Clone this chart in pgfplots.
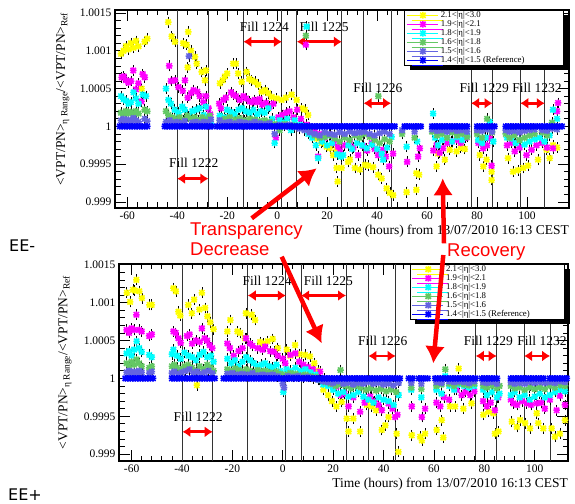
\documentclass[border=0pt]{standalone}
\usepackage{fontspec}
\setmainfont{Liberation Serif}
\newfontfamily\annfont{Liberation Sans}
\newfontfamily\eefont{DejaVu Sans}
\usepackage{pgfplots}
\pgfplotsset{compat=1.18}
\usetikzlibrary{shadows,arrows.meta}

\definecolor{cY}{RGB}{255,255,0}
\definecolor{cM}{RGB}{255,0,255}
\definecolor{cC}{RGB}{0,255,255}
\definecolor{cG}{RGB}{100,200,100}
\definecolor{cS}{RGB}{100,100,225}
\definecolor{cB}{RGB}{0,0,255}

\pgfdeclareplotmark{rootstar}{%
  \pgfpathmoveto{\pgfqpoint{-\pgfplotmarksize}{0pt}}\pgfpathlineto{\pgfqpoint{\pgfplotmarksize}{0pt}}%
  \pgfpathmoveto{\pgfqpoint{0pt}{-\pgfplotmarksize}}\pgfpathlineto{\pgfqpoint{0pt}{\pgfplotmarksize}}%
  \pgfpathmoveto{\pgfqpoint{-.8\pgfplotmarksize}{-.8\pgfplotmarksize}}\pgfpathlineto{\pgfqpoint{.8\pgfplotmarksize}{.8\pgfplotmarksize}}%
  \pgfpathmoveto{\pgfqpoint{-.8\pgfplotmarksize}{.8\pgfplotmarksize}}\pgfpathlineto{\pgfqpoint{.8\pgfplotmarksize}{-.8\pgfplotmarksize}}%
  \pgfusepathqstroke}

\tikzset{
  fillline/.style={black!80, line width=0.9pt},
  fillarrow/.style={red, line width=2.8pt, {Latex[length=8pt,width=11pt]}-{Latex[length=8pt,width=11pt]}},
  filltext/.style={font=\fontsize{13.5}{14}\selectfont, inner sep=0pt},
}

\pgfplotsset{
  panel/.style={
    scale only axis,
    xtick={-60,-40,-20,0,20,40,60,80,100},
    xticklabels={-60,-40,-20,0,20,40,60,80,100},
    minor x tick num=4,
    ytick={0.999,0.9995,1,1.0005,1.001,1.0015},
    yticklabels={0.999,0.9995,1,1.0005,1.001,1.0015},
    minor y tick num=4,
    tick align=inside,
    major tick length=11pt, minor tick length=5.5pt,
    axis line style={line width=1.2pt},
    every tick/.style={black, line width=0.8pt},
    ticklabel style={font=\fontsize{11.5}{12}\selectfont},
    label style={font=\fontsize{13.5}{15}\selectfont},
    xlabel={Time (hours) from 13/07/2010 16:13 CEST},
    xlabel style={at={(axis description cs:1,0)}, anchor=north east, inner sep=0pt, yshift=-17pt},
    ylabel={<VPT/PN>\textsubscript{η Range}/<VPT/PN>\textsubscript{Ref}},
    legend cell align=left,
    legend style={anchor=north east, draw=black, line width=0.6pt, fill=white,
      font=\fontsize{8.8}{9}\selectfont, inner xsep=2pt, inner ysep=0.5pt, row sep=0pt,
      nodes={inner xsep=2.5pt, inner ysep=1pt, text height=5.8pt, text depth=1.2pt},
      drop shadow={shadow xshift=5pt, shadow yshift=-5pt, fill=black, opacity=1}},
    legend image code/.code={\path (-16pt,0pt) -- (15pt,0pt);
      \draw[mark repeat=2,mark phase=2,##1] plot coordinates {(-3pt,0pt) (0pt,0pt) (3pt,0pt)};},
  },
  ser/.style={only marks, mark=rootstar, mark size=3.3pt, color=#1,
    mark options={line width=1.5pt, draw=#1},
    /pgfplots/error bars/y dir=both, /pgfplots/error bars/y fixed=0.00004,
    /pgfplots/error bars/error bar style={black, line width=0.35pt},
    /pgfplots/error bars/error mark options={black, line width=0.7pt, mark size=2.4pt}},
  refser/.style={only marks, mark=rootstar, mark size=3.3pt, color=cB,
    mark options={line width=1.5pt, draw=cB}},
}

\begin{document}
\begin{tikzpicture}[x=1pt,y=1pt]
\path[use as bounding box] (0,0) rectangle (575,503);

% ---------------- EE- ----------------
\begin{axis}[panel, at={(115pt,295pt)}, anchor=south west, width=454pt, height=198pt,
  xmin=-64.9, xmax=116.8, ymin=0.99892, ymax=1.00154,
  legend style={at={(0.988,1)}},
  ylabel style={at={(axis description cs:-0.115,0.55)}, anchor=center}]
\pgfplotsinvokeforeach{-40,-27.5,-13.5,1.9,7.9,25.9,34.6,45.6,77.6,86.2,97.3,107.1}{
  \draw[fillline] ({axis cs:#1,1}|-{rel axis cs:0,0}) -- ({axis cs:#1,1}|-{rel axis cs:0,1});}

\addplot[ser=cY] coordinates {
(-62.5,1.00096)(-61.5,1.00100)(-60.5,1.00106)(-59.5,1.00102)(-58.5,1.00110)(-57.5,1.00104)(-56.5,1.00113)(-55.5,1.00106)(-54.2,1.00050)(-53,1.00112)(-52,1.00116)
(-43.6,1.00138)(-42.2,1.00119)(-40.9,1.00112)(-37.6,1.00110)(-36.2,1.00108)(-35.6,1.00125)(-35.8,1.00078)(-34.5,1.00100)(-32.9,1.00092)(-32.2,1.00083)(-30.2,1.00072)(-28.5,1.00074)(-28.9,1.00061)
(-22.9,1.00057)(-21.8,1.00061)(-20.9,1.00066)(-20,1.00070)(-17.6,1.00083)(-16.5,1.00083)(-15.6,1.00070)(-14.2,1.00059)(-12.2,1.00072)(-11.2,1.00063)(-10.2,1.00061)(-8.9,1.00059)(-7.6,1.00055)(-6.2,1.00046)(-4.9,1.00048)(-3.6,1.00044)(-2.2,1.00039)(-0.2,1.00037)(1.8,1.00035)(3.5,1.00038)(5.8,1.00042)(7.8,1.00035)(9.8,1.00024)(11.1,1.00022)(12.4,1.00015)
(14.4,0.99989)(15.8,0.99984)(17.8,0.99978)(19.8,0.99973)(21.1,0.99971)(22.4,0.99962)(23.8,0.99945)(24.2,0.99927)(23.8,0.99969)(25.8,0.99945)(28.4,0.99953)(29.1,0.99956)(31.1,0.99945)(33.1,0.99943)(35.1,0.99949)(36.4,0.99948)(38.4,0.99946)(40.4,0.99936)(41.8,0.99931)(43.8,0.99918)(45.1,0.99912)(46.4,0.99909)
(51.8,0.99913)(55.7,0.99916)(55.7,0.99938)(56.8,0.99936)(63.8,0.99947)(64.4,0.99964)(67.1,0.99956)(69.1,0.99969)(71.8,0.99967)(73.5,0.99972)(75.1,0.99970)(81.1,0.99962)(82.5,0.99947)(83.8,0.99956)(85.8,0.99940)(85.8,0.99929)(92.4,0.99958)(94.4,0.99940)(96.4,0.99942)(98.5,0.99945)(100.4,0.99948)(104.4,0.99956)(107.8,0.99969)(109.1,0.99958)(110.4,0.99975)(112,0.99972)
};
\addlegendentry{\makebox[118pt][l]{2.1<|η|<3.0}}

\addplot[ser=cM] coordinates {
(-62.2,1.00065)(-61.4,1.00066)(-60.5,1.00061)(-59.5,1.00058)(-58.5,1.00060)(-57.6,1.00074)(-56.5,1.00049)(-55.5,1.00057)(-54.3,1.00033)(-53.8,1.00069)(-53,1.00065)
(-43.2,1.00080)(-42.5,1.00060)(-40.9,1.00061)(-39.5,1.00052)(-37.8,1.00047)(-36.9,1.00061)(-35.8,1.00038)(-34.5,1.00044)(-33.5,1.00048)(-32,1.00046)(-31,1.00040)(-29.5,1.00032)(-28.5,1.00040)(-27.5,1.00024)(-26.8,1.00016)
(-23.2,1.00030)(-22.5,1.00024)(-21.5,1.00035)(-20.5,1.00038)(-18.5,1.00045)(-17.5,1.00042)(-16.5,1.00040)(-15,1.00035)(-13.5,1.00040)(-12.5,1.00037)(-11,1.00033)(-10,1.00032)(-9,1.00035)(-8,1.00032)(-7,1.00036)(-6,1.00029)(-4.5,1.00031)(-3,1.00026)(-1.5,1.00030)(-0.5,0.99985)(0.5,1.00012)(2,1.00015)(3.5,1.00018)(5,1.00020)(6.5,1.00012)(8,1.00022)(9.5,1.00010)(11.5,1.00108)(11.8,1.00002)
(13,0.99998)(15.1,0.99993)(16.4,0.99960)(17,0.99990)(19,0.99985)(21.1,0.99989)(22.4,0.99978)(23.1,0.99982)(24.4,0.99973)(25.1,0.99967)(27,0.99975)(29.1,0.99980)(30.5,0.99972)(32.4,0.99962)(34.4,0.99974)(36,0.99968)(37.8,0.99978)(39,0.99970)(40.4,0.99962)(42.4,0.99969)(43.5,0.99960)(44.8,0.99947)(46.4,0.99964)
(52,0.99953)(56.4,0.99960)(57.1,0.99971)(62.5,0.99968)(63.8,0.99975)(65,0.99965)(66.4,0.99971)(68,0.99978)(69.8,0.99980)(71.8,0.99982)(73.5,0.99978)(75.5,0.99985)(80.5,0.99978)(82.4,0.99971)(84,0.99975)(85.1,0.99984)(85.8,0.99948)(92,0.99975)(93.8,0.99978)(95.1,0.99967)(97,0.99972)(99.8,0.99962)(101.8,0.99969)(103.8,0.99975)(106,0.99978)(108,0.99972)(110.4,0.99971)(112.4,1.00031)(112,1.00020)
};
\addlegendentry{\makebox[118pt][l]{1.9<|η|<2.1}}

\addplot[ser=cC] coordinates {
(-62.5,1.00040)(-61.5,1.00036)(-60.5,1.00034)(-59.5,1.00030)(-58.5,1.00032)(-57.5,1.00045)(-56.5,1.00037)(-55.5,1.00030)(-53.8,1.00042)(-52.5,1.00040)
(-44.5,1.00050)(-43.5,1.00035)(-42.5,1.00030)(-41,1.00022)(-39.5,1.00018)(-38,1.00026)(-37,1.00022)(-35.5,1.00013)(-34,1.00020)(-32.5,1.00022)(-31,1.00024)(-29.5,1.00015)(-28.5,1.00026)(-27.5,1.00012)(-26.5,1.00004)
(-23,1.00014)(-22,1.00010)(-21,1.00012)(-20,1.00022)(-18.5,1.00019)(-17,1.00016)(-15.5,1.00022)(-14,1.00024)(-12.5,1.00020)(-11,1.00018)(-9.5,1.00022)(-8,1.00016)(-6.5,1.00020)(-5,1.00018)(-3.5,1.00024)(-2,1.00010)(-1,0.99978)(1,1.00008)(2.5,1.00005)(4,1.00010)(5.5,0.99995)(7,1.00008)(9,1.00002)(10.5,1.00000)(11.8,1.00132)
(12.5,0.99990)(14,0.99985)(15.5,0.99975)(16.4,0.99958)(18,0.99980)(20,0.99975)(21,0.99988)(22,0.99978)(24,0.99963)(25.5,0.99960)(26.4,0.99962)(28.5,0.99975)(30,0.99970)(32,0.99978)(34,0.99975)(35.8,0.99971)(38,0.99976)(40,0.99970)(41.8,0.99964)(42.4,0.99956)(44,0.99972)(45.8,0.99986)
(51.8,0.99973)(56,0.99980)(62.4,1.00017)(63.2,0.99985)(64.4,0.99975)(66,0.99982)(68,0.99985)(70,0.99980)(72,0.99986)(74,0.99982)(76,0.99988)(80.4,0.99982)(82,0.99978)(83.5,0.99985)(85.1,1.00006)(86.5,0.99980)(92,0.99985)(93.8,0.99984)(95.5,0.99978)(97.1,0.99982)(99,0.99976)(101,0.99980)(103,0.99983)(105,0.99985)(107,0.99980)(109,0.99988)(110.4,1.00022)(112,1.00010)
};
\addlegendentry{\makebox[118pt][l]{1.8<|η|<1.9}}

\addplot[ser=cG] coordinates {
(-62.5,1.00018)(-61.5,1.00016)(-60.5,1.00020)(-59.5,1.00017)(-58.5,1.00019)(-57.5,1.00015)(-56.5,1.00020)(-55.5,1.00017)(-53,1.00022)(-52,1.00020)
(-44.5,1.00020)(-43.5,1.00015)(-42,1.00012)(-40.5,1.00010)(-39,1.00012)(-37.5,1.00008)(-36,1.00014)(-34.5,1.00010)(-33,1.00012)(-31.5,1.00008)(-30,1.00012)(-28.5,1.00009)(-27,1.00014)
(-23,1.00008)(-21,1.00010)(-19,1.00012)(-17,1.00009)(-15,1.00011)(-13,1.00008)(-11,1.00010)(-9,1.00009)(-7,1.00007)(-5,1.00008)(-3,1.00006)(-1,1.00003)(1,0.99995)(3,1.00003)(5,1.00002)(7,1.00001)(9,0.99998)(11.5,1.00120)
(13,0.99994)(15,0.99988)(17,0.99985)(19,0.99986)(21,0.99988)(23,0.99984)(25,0.99980)(27,0.99985)(29,0.99982)(31,0.99988)(33,0.99985)(35,0.99990)(37,0.99986)(39,0.99982)(40.5,1.00040)(41,0.99978)(43,0.99983)(45,0.99980)
(50,0.99990)(55,0.99985)(62,0.99993)(64,0.99988)(66,0.99990)(68,0.99985)(70,0.99992)(72,0.99988)(74,0.99990)(76,0.99986)(80,0.99990)(82,0.99985)(84,1.00010)(86,0.99992)(91.5,0.99990)(93,0.99985)(95,0.99988)(97,0.99982)(99,0.99985)(101,0.99988)(103,0.99990)(106,0.99992)(108,0.99988)(110,1.00005)(112,1.00000)
};
\addlegendentry{\makebox[118pt][l]{1.6<|η|<1.8}}

\addplot[ser=cS] coordinates {
(-62.5,1.00008)(-61.5,1.00010)(-60.5,1.00006)(-59.5,1.00009)(-58.5,1.00007)(-57.5,1.00011)(-56.5,1.00008)(-55.5,1.00006)(-53,1.00010)(-52,1.00007)
(-44.5,1.00006)(-43,1.00008)(-41.5,1.00005)(-40,1.00006)(-38.5,1.00004)(-37,1.00007)(-35.3,1.00093)(-34,1.00005)(-32.5,1.00006)(-31,1.00004)(-29.5,1.00006)(-28,1.00005)(-26.5,1.00009)
(-23,1.00008)(-21,1.00005)(-19,1.00006)(-17,1.00004)(-15,1.00006)(-13,1.00005)(-11,1.00004)(-9,1.00006)(-7,1.00004)(-5,1.00003)(-3,1.00004)(-1,0.99990)(1,1.00002)(3,1.00001)(5,1.00002)(7,0.99999)(9,0.99997)(11,0.99995)
(13,0.99992)(15,0.99990)(17,0.99988)(19,0.99992)(21,0.99990)(23,0.99989)(25,0.99992)(27,0.99990)(29,0.99993)(31,0.99991)(33,0.99992)(35,0.99993)(37,0.99990)(39,0.99988)(41,0.99991)(43,0.99993)(45,0.99990)
(50,0.99995)(55,0.99993)(62,0.99996)(64,0.99994)(66,0.99995)(68,0.99993)(70,0.99996)(72,0.99994)(74,0.99995)(76,0.99993)(80,0.99995)(82,0.99994)(84,0.99996)(86,0.99993)(91.5,0.99995)(93,0.99993)(95,0.99994)(97,0.99992)(99,0.99994)(101,0.99995)(103,0.99996)(106,0.99995)(108,0.99994)(110,0.99997)(112,0.99996)
};
\addlegendentry{\makebox[118pt][l]{1.5<|η|<1.6}}

\addplot[refser] coordinates {
(-63,1)(-62,1)(-61,1)(-60,1)(-59,1)(-58,1)(-57,1)(-56,1)(-55,1)(-54,1)(-53,1)(-52,1)
(-45,1)(-44,1)(-43,1)(-42,1)(-41,1)(-40,1)(-39,1)(-38,1)(-37,1)(-36,1)(-35,1)(-34,1)(-33,1)(-32,1)(-31,1)(-30,1)(-29,1)(-28,1)(-27,1)(-26,1)
(-24,1)(-23,1)(-22,1)(-21,1)(-20,1)(-19,1)(-18,1)(-17,1)(-16,1)(-15,1)(-14,1)(-13,1)(-12,1)(-11,1)(-10,1)(-9,1)(-8,1)(-7,1)(-6,1)(-5,1)(-4,1)(-3,1)(-2,1)(-1,1)(0,1)(1,1)(2,1)(3,1)(4,1)(5,1)(6,1)(7,1)(8,1)(9,1)(10,1)(11,1)(12,1)(13,1)(14,1)(15,1)(16,1)(17,1)(18,1)(19,1)(20,1)(21,1)(22,1)(23,1)(24,1)(25,1)(26,1)(27,1)(28,1)(29,1)(30,1)(31,1)(32,1)(33,1)(34,1)(35,1)(36,1)(37,1)(38,1)(39,1)(40,1)(41,1)(42,1)(43,1)(44,1)(45,1)(46,1)(47,1)
(51,1)(52,1)(53,1)(54.5,1)(55.5,1)(56.5,1)(57.5,1)
(62,1)(63,1)(64,1)(65,1)(66,1)(67,1)(68,1)(69,1)(70,1)(71,1)(72,1)(73,1)(74,1)(75,1)(76,1)
(80,1)(81,1)(82,1)(83,1)(84,1)(85,1)(86,1)(87,1)
(91.5,1)(92.5,1)(93.5,1)(94.5,1)(95.5,1)(96.5,1)(97.5,1)(98.5,1)(99.5,1)(100.5,1)(101.5,1)(102.5,1)
(104,1)(105,1)(106,1)(107,1)(108,1)(109,1)(110,1)(111,1)(112,1)(113,1)(114,1)
};
\addlegendentry{\makebox[118pt][l]{1.4<|η|<1.5 (Reference)}}

\node[filltext] at (axis cs:-33.4,0.999516) {Fill 1222};
\draw[fillarrow] (axis cs:-40,0.999308) -- (axis cs:-27.5,0.999308);
\node[filltext] at (axis cs:-5.1,1.001315) {Fill 1224};
\draw[fillarrow] (axis cs:-13.5,1.00112) -- (axis cs:1.9,1.00112);
\node[filltext] at (axis cs:18.8,1.001315) {Fill 1225};
\draw[fillarrow] (axis cs:7.9,1.00112) -- (axis cs:25.9,1.00112);
\node[filltext] at (axis cs:40.3,1.000504) {Fill 1226};
\draw[fillarrow] (axis cs:34.6,1.000306) -- (axis cs:45.6,1.000306);
\node[filltext] at (axis cs:82.9,1.000504) {Fill 1229};
\draw[fillarrow] (axis cs:77.6,1.000306) -- (axis cs:86.2,1.000306);
\node[filltext] at (axis cs:104,1.000504) {Fill 1232};
\draw[fillarrow] (axis cs:97.3,1.000306) -- (axis cs:107.1,1.000306);
\end{axis}

% ---------------- EE+ ----------------
\begin{axis}[panel, at={(119pt,42pt)}, anchor=south west, width=449pt, height=197pt,
  xmin=-65, xmax=113.2, ymin=0.99891, ymax=1.00151,
  legend style={at={(0.993,1)}},
  ylabel style={at={(axis description cs:-0.12,0.5)}, anchor=center}]
\pgfplotsinvokeforeach{-39.8,-27.8,-13.9,1.2,7.3,25.1,34,44.8,76.6,84.9,95.8,106.1}{
  \draw[fillline] ({axis cs:#1,1}|-{rel axis cs:0,0}) -- ({axis cs:#1,1}|-{rel axis cs:0,1});}

\addplot[ser=cY] coordinates {
(-61.9,1.00113)(-60.6,1.00101)(-59.5,1.00117)(-58.1,1.00130)(-58.8,1.00116)(-56.9,1.00115)(-55.9,1.00106)(-52.9,1.00097)(-52,1.00097)
(-43.4,1.00119)(-42.4,1.00115)(-41.4,1.00088)(-40.7,1.00083)(-37.5,1.00097)(-36.1,1.00086)(-35.2,1.00104)(-34.1,0.99991)(-33.1,1.00091)(-32.1,1.00113)(-30.8,1.00093)(-29.9,1.00082)(-28.8,1.00074)(-27.5,1.00065)
(-22,1.00062)(-20.8,1.00077)(-18,1.00062)(-16.9,1.00060)(-15,1.00053)(-14.6,1.00086)(-12.3,1.00084)(-11,1.00077)(-9,1.00048)(-7.7,1.00046)(-6,1.00049)(-4,1.00052)(-2,1.00040)(1.6,1.00038)(3,1.00030)(4.9,1.00044)(6.5,1.00032)(8.8,1.00031)(10.8,1.00029)(12.5,1.00020)(14,1.00010)
(16.1,0.99985)(18,0.99978)(19.5,0.99970)(21.3,0.99963)(23.4,0.99969)(25.4,0.99947)(26.1,0.99930)(28,0.99947)(30.7,0.99930)(33.3,0.99965)(35.3,0.99963)(37,0.99958)(39.3,0.99932)(40.7,0.99938)(42,0.99949)(45.2,0.99927)(45.9,0.99903)
(51.2,0.99925)(54.5,0.99923)(55.2,0.99918)(56.5,0.99927)(61.1,0.99932)(63.1,0.99945)(63.7,0.99922)(66.4,0.99963)(68.4,0.99963)(69.8,1.00013)(71.7,0.99960)(74.9,0.99967)(79.6,0.99952)(81.6,0.99956)(83.6,0.99954)(84.2,0.99927)(85.6,0.99930)
(90.9,0.99943)(92.9,0.99936)(94.2,0.99945)(96.2,0.99941)(98.1,0.99934)(100.8,0.99954)(101.4,0.99941)(103.4,0.99934)(106.7,0.99934)(108,0.99923)(110,0.99927)(112,0.99945)
};
\addlegendentry{\makebox[114pt][l]{2.1<|η|<3.0}}

\addplot[ser=cM] coordinates {
(-62,1.00064)(-61,1.00060)(-60,1.00066)(-59,1.00064)(-58.1,1.00084)(-57,1.00064)(-56,1.00062)(-53,1.00056)(-52,1.00058)
(-43.4,1.00062)(-42.5,1.00060)(-41.4,1.00053)(-40.5,1.00047)(-38,1.00056)(-37,1.00058)(-36,1.00046)(-34.5,1.00050)(-33,1.00048)(-32.1,1.00066)(-31,1.00053)(-30,1.00050)(-29,1.00044)(-28,1.00040)
(-22,1.00046)(-21,1.00040)(-19.5,1.00030)(-17.5,1.00036)(-16,1.00040)(-14.6,1.00053)(-13,1.00046)(-12,1.00043)(-10,1.00040)(-8,1.00038)(-7,1.00042)(-5,1.00036)(-3.5,1.00035)(-2,1.00030)(0,1.00026)(1,1.00020)(3,1.00031)(5,1.00033)(6.5,1.00022)(8.2,1.00018)(10,1.00015)(12,1.00012)(14.8,1.00009)
(16.5,1.00000)(18.8,0.99996)(20,0.99990)(21.3,0.99989)(23,0.99978)(24.5,0.99980)(26.1,0.99963)(28,0.99975)(30.7,0.99956)(32.5,0.99968)(34.7,0.99976)(36.5,0.99970)(38,0.99965)(39.3,0.99958)(42,0.99967)(43.5,0.99960)(44.6,0.99949)(45.5,0.99952)
(51.2,0.99963)(55.2,0.99949)(56.5,0.99960)(61,0.99968)(62.5,0.99963)(64,0.99975)(66,0.99972)(69,0.99985)(71,0.99978)(72.5,0.99982)(74.4,0.99978)(76,0.99983)(79.5,0.99970)(81,0.99963)(82.5,0.99968)(84.2,0.99958)(85.5,0.99975)
(90.5,0.99972)(91.5,0.99967)(93,0.99965)(95,0.99970)(96.8,0.99967)(98.5,0.99965)(100.8,0.99967)(102.5,0.99968)(104,0.99960)(106,0.99972)(108.7,0.99958)(110,0.99977)(112,0.99965)
};
\addlegendentry{\makebox[114pt][l]{1.9<|η|<2.1}}

\addplot[ser=cC] coordinates {
(-62,1.00033)(-61,1.00036)(-60,1.00030)(-59,1.00038)(-58,1.00049)(-57,1.00040)(-56,1.00035)(-53,1.00031)(-52,1.00028)
(-44,1.00032)(-43.4,1.00038)(-42,1.00030)(-40.5,1.00026)(-39,1.00034)(-37.5,1.00030)(-36,1.00028)(-34.5,1.00024)(-33,1.00031)(-31.5,1.00035)(-30,1.00028)(-28.5,1.00030)(-27.5,1.00022)
(-22,1.00026)(-20.5,1.00020)(-19,1.00024)(-17.5,1.00016)(-16,1.00022)(-14.5,1.00028)(-13,1.00024)(-11.5,1.00020)(-10,1.00016)(-8.5,1.00018)(-7,1.00020)(-5.5,1.00016)(-4,1.00014)(-2.5,1.00018)(-1,1.00010)(0.2,0.99982)(1.5,1.00012)(3,1.00010)(5,1.00014)(7,1.00010)(9,1.00012)(11,1.00008)(13,1.00005)
(14.5,0.99998)(16,0.99992)(18,0.99990)(20,0.99985)(22,0.99980)(24,0.99982)(26,0.99976)(28,0.99978)(30,0.99982)(32,0.99976)(34,0.99972)(36,0.99968)(38,0.99975)(40,0.99972)(42,0.99970)(44,0.99965)(46,0.99978)
(51,0.99985)(55,0.99975)(61,0.99985)(63,0.99980)(64.5,1.00003)(66,0.99990)(68,0.99985)(70,0.99992)(72,0.99990)(74,0.99988)(76,0.99990)(79.5,0.99985)(81,0.99978)(83,0.99982)(85,0.99975)(86,0.99980)
(90.5,0.99978)(92,0.99982)(94,0.99975)(96,0.99978)(98,0.99972)(100,0.99976)(102,0.99980)(104,0.99975)(106,0.99978)(108,0.99982)(110,0.99985)(112,0.99983)
};
\addlegendentry{\makebox[114pt][l]{1.8<|η|<1.9}}

\addplot[ser=cG] coordinates {
(-62,1.00020)(-61,1.00016)(-60,1.00022)(-59,1.00018)(-58,1.00025)(-57,1.00020)(-56,1.00016)(-53,1.00014)(-52,1.00016)
(-44,1.00016)(-43,1.00018)(-42,1.00014)(-40.5,1.00012)(-39,1.00016)(-37.5,1.00018)(-36,1.00014)(-34.5,1.00010)(-33,1.00016)(-31.5,1.00012)(-30,1.00018)(-28.5,1.00014)(-27.5,1.00010)
(-22,1.00012)(-20.5,1.00010)(-19,1.00013)(-17.5,1.00011)(-16,1.00009)(-14.5,1.00012)(-13,1.00010)(-11.5,1.00008)(-10,1.00011)(-8.5,1.00009)(-7,1.00010)(-5.5,1.00008)(-4,1.00007)(-2.5,1.00009)(-1,1.00006)(1,1.00005)(3,1.00007)(5,1.00006)(7,1.00004)(9,1.00005)(11,1.00003)(13,1.00002)
(15,0.99998)(17,0.99995)(19,0.99993)(21,0.99990)(22.9,1.00011)(23,0.99992)(25,0.99990)(27,0.99987)(29,0.99990)(31,0.99988)(33,0.99985)(35,0.99987)(37,0.99984)(39,0.99986)(41,0.99983)(43,0.99985)(45,0.99982)
(51,0.99988)(55,0.99986)(61,0.99990)(63,0.99992)(64.5,1.00012)(66,0.99993)(68,0.99990)(70,0.99994)(72,0.99992)(74,0.99991)(76,0.99993)(79.5,0.99990)(81,0.99988)(83,0.99990)(85,0.99987)(86,0.99990)
(90.5,0.99990)(92,0.99987)(94,0.99988)(96,0.99985)(98,0.99988)(100,0.99986)(102,0.99988)(104,0.99986)(106,0.99990)(108,0.99988)(110,0.99991)(112,0.99990)
};
\addlegendentry{\makebox[114pt][l]{1.6<|η|<1.8}}

\addplot[ser=cS] coordinates {
(-62,1.00008)(-61,1.00010)(-60,1.00007)(-59,1.00009)(-58,1.00006)(-57,1.00010)(-56,1.00008)(-53,1.00007)(-52,1.00009)
(-44,1.00007)(-43,1.00009)(-41.5,1.00006)(-40,1.00008)(-38.5,1.00010)(-37,1.00012)(-35.5,1.00007)(-34,1.00009)(-32.5,1.00006)(-31,1.00008)(-29.5,1.00010)(-28,1.00007)
(-22,1.00006)(-20,1.00007)(-18,1.00005)(-16,1.00006)(-14,1.00005)(-12,1.00007)(-10,1.00004)(-8,1.00005)(-6,1.00004)(-4,1.00005)(-2,1.00003)(0,0.99993)(0.5,0.99988)(2,1.00003)(4,1.00002)(6,1.00003)(8,1.00001)(10,1.00002)(12,1.00000)
(14,0.99998)(16,0.99996)(18,0.99995)(20,0.99994)(22,0.99996)(24,0.99993)(26,0.99994)(28,0.99992)(30,0.99994)(32,0.99993)(34,0.99995)(36,0.99993)(38,0.99994)(40,0.99992)(42,0.99993)(44,0.99991)(46,0.99994)
(51,0.99994)(55,0.99993)(61,0.99995)(63,0.99994)(66,0.99996)(68,0.99995)(70,0.99996)(72,0.99995)(74,0.99994)(76,0.99996)(79.5,0.99995)(81,0.99994)(83,0.99995)(85,0.99993)
(90.5,0.99995)(92,0.99993)(94,0.99994)(96,0.99993)(98,0.99995)(100,0.99994)(102,0.99995)(104,0.99994)(106,0.99995)(108,0.99994)(110,0.99996)(112,0.99995)
};
\addlegendentry{\makebox[114pt][l]{1.5<|η|<1.6}}

\addplot[refser] coordinates {
(-62.5,1)(-61.5,1)(-60.5,1)(-59.5,1)(-58.5,1)(-57.5,1)(-56.5,1)(-55.5,1)(-54.5,1)(-53.5,1)(-52.5,1)(-51.5,1)
(-44,1)(-43,1)(-42,1)(-41,1)(-40,1)(-39,1)(-38,1)(-37,1)(-36,1)(-35,1)(-34,1)(-33,1)(-32,1)(-31,1)(-30,1)(-29,1)(-28,1)(-27,1)
(-23.5,1)(-22.5,1)(-21.5,1)(-20.5,1)(-19.5,1)(-18.5,1)(-17.5,1)(-16.5,1)(-15.5,1)(-14.5,1)(-13.5,1)(-12.5,1)(-11.5,1)(-10.5,1)(-9.5,1)(-8.5,1)(-7.5,1)(-6.5,1)(-5.5,1)(-4.5,1)(-3.5,1)(-2.5,1)(-1.5,1)(-0.5,1)(0.5,1)(1.5,1)(2.5,1)(3.5,1)(4.5,1)(5.5,1)(6.5,1)(7.5,1)(8.5,1)(9.5,1)(10.5,1)(11.5,1)(12.5,1)(13.5,1)(14.5,1)(15.5,1)(16.5,1)(17.5,1)(18.5,1)(19.5,1)(20.5,1)(21.5,1)(22.5,1)(23.5,1)(24.5,1)(25.5,1)(26.5,1)(27.5,1)(28.5,1)(29.5,1)(30.5,1)(31.5,1)(32.5,1)(33.5,1)(34.5,1)(35.5,1)(36.5,1)(37.5,1)(38.5,1)(39.5,1)(40.5,1)(41.5,1)(42.5,1)(43.5,1)(44.5,1)(45.5,1)(46.5,1)
(50,1)(51.5,1)(54,1)(55,1)(56,1)(57.5,1)
(60.5,1)(61.5,1)(62.5,1)(63.5,1)(64.5,1)(65.5,1)(66.5,1)(67.5,1)(68.5,1)(69.5,1)(70.5,1)(71.5,1)(72.5,1)(73.5,1)(74.5,1)(75.5,1)(76.5,1)
(79,1)(80,1)(81,1)(82,1)(83,1)(84,1)(85,1)
(90.5,1)(91.5,1)(92.5,1)(93.5,1)(94.5,1)(95.5,1)(96.5,1)(97.5,1)(98.5,1)(99.5,1)(100.5,1)(101.5,1)(102.5,1)(103.5,1)
(106,1)(107,1)(108,1)(109,1)(110,1)(111,1)(112,1)(112.7,1)
};
\addlegendentry{\makebox[114pt][l]{1.4<|η|<1.5 (Reference)}}

\node[filltext] at (axis cs:-33.6,0.999493) {Fill 1222};
\draw[fillarrow] (axis cs:-39.8,0.999295) -- (axis cs:-27.8,0.999295);
\node[filltext] at (axis cs:-6.2,1.001292) {Fill 1224};
\draw[fillarrow] (axis cs:-13.9,1.001094) -- (axis cs:1.2,1.001094);
\node[filltext] at (axis cs:18.1,1.001292) {Fill 1225};
\draw[fillarrow] (axis cs:7.3,1.001094) -- (axis cs:25.1,1.001094);
\node[filltext] at (axis cs:39.7,1.000499) {Fill 1226};
\draw[fillarrow] (axis cs:34,1.000296) -- (axis cs:44.8,1.000296);
\node[filltext] at (axis cs:81.6,1.000499) {Fill 1229};
\draw[fillarrow] (axis cs:76.6,1.000296) -- (axis cs:84.9,1.000296);
\node[filltext] at (axis cs:102.9,1.000499) {Fill 1232};
\draw[fillarrow] (axis cs:95.8,1.000296) -- (axis cs:106.1,1.000296);
\end{axis}

% ---------------- annotations ----------------
\node[anchor=base west, inner sep=0pt, font=\eefont\fontsize{16}{16}\selectfont] at (9,251) {EE-};
\node[anchor=base west, inner sep=0pt, font=\eefont\fontsize{16}{16}\selectfont] at (8,2.5) {EE+};
\begin{scope}[red, font=\annfont\fontsize{18.5}{19}\selectfont]
\node[anchor=base west, inner sep=0pt] at (190,267) {Transparency};
\node[anchor=base west, inner sep=0pt] at (190,247) {Decrease};
\node[anchor=base west, inner sep=0pt] at (447,246.5) {Recovery};
\end{scope}
\begin{scope}[red, line width=4.5pt, -{Latex[length=17pt,width=20pt]}]
\draw (251.7,284.7) -- (316.7,334.7);
\draw (281.7,246.3) -- (321.7,159.7);
\draw (444,259.7) -- (442.7,324.7);
\draw (443.3,248) -- (433.3,139.7);
\end{scope}
\end{tikzpicture}
\end{document}
